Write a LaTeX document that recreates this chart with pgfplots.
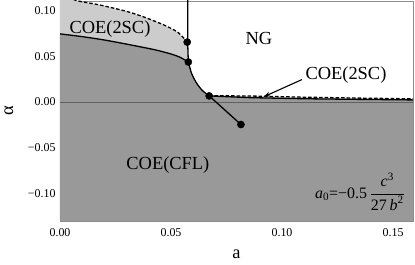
\documentclass[border=0pt]{standalone}
\usepackage{pgfplots}
\pgfplotsset{compat=1.18}
\usepackage{fontspec}
\setmainfont{Liberation Serif}
\usetikzlibrary{arrows.meta}
\definecolor{darkfill}{gray}{0.6}
\definecolor{lightfill}{gray}{0.8}
\definecolor{frameg}{gray}{0.55}
\begin{document}
\begin{tikzpicture}
\begin{axis}[
  scale only axis, width=353bp, height=219.7bp,
  xmin=0, xmax=0.159, ymin=-0.13, ymax=0.1105,
  axis line style={frameg},
  xtick={0,0.05,0.1,0.15}, xticklabels={0.00,0.05,0.10,0.15},
  ytick={-0.1,-0.05,0,0.05,0.1}, yticklabels={−0.10,−0.05,0.00,0.05,0.10},
  minor xtick={0.01,0.02,0.03,0.04,0.06,0.07,0.08,0.09,0.11,0.12,0.13,0.14},
  minor ytick={-0.12,-0.11,-0.09,-0.08,-0.07,-0.06,-0.04,-0.03,-0.02,-0.01,0.01,0.02,0.03,0.04,0.06,0.07,0.08,0.09},
  tick align=inside, xtick pos=bottom, ytick pos=left,
  major tick length=4.5bp, minor tick length=2.5bp,
  every tick/.style={frameg},
  ticklabel style={font=\fontsize{12}{14}\selectfont},
  xticklabel style={yshift=-4.5bp},
  yticklabel style={xshift=-1bp},
  xlabel={a}, ylabel={α},
  label style={font=\fontsize{18.5}{20}\selectfont},
  x label style={at={(axis description cs:0.5,-0.155)},anchor=center},
  y label style={at={(axis description cs:-0.145,0.5)},anchor=center},
  clip=true,
]
% light gray region (upper COE(2SC))
\addplot[draw=none, fill=lightfill] coordinates {(0,0.0745) (0,0.12) (0.0082,0.1105) (0.0180,0.1061) (0.0302,0.0990) (0.0383,0.0925) (0.0473,0.0837) (0.0532,0.0760) (0.0573,0.0655) (0.0578,0.0437) (0.054,0.0490) (0.05,0.0525) (0.0443,0.0562) (0.04,0.0585) (0.03,0.0633) (0.02,0.0678) (0.01,0.0715)} -- cycle;
% light gray sliver (right COE(2SC))
\addplot[draw=none, fill=lightfill] coordinates {(0.0672,0.0068) (0.0856,0.0065) (0.11,0.0052) (0.135,0.0042) (0.16,0.0034) (0.16,0.0022) (0.135,0.0028) (0.11,0.0035) (0.0856,0.0047) (0.0672,0.0066)} -- cycle;
% dark gray region (COE(CFL))
\addplot[draw=none, fill=darkfill] coordinates {(0,-0.14) (0,0.0745) (0.01,0.0715) (0.02,0.0678) (0.03,0.0633) (0.04,0.0585) (0.0443,0.0562) (0.05,0.0525) (0.054,0.0490) (0.0578,0.0437) (0.0593,0.0310) (0.0613,0.0215) (0.0640,0.0128) (0.0672,0.0066) (0.0856,0.0047) (0.11,0.0035) (0.135,0.0028) (0.16,0.0022) (0.16,-0.14)} -- cycle;
% zero line
\addplot[color=gray!75!black, line width=0.8bp] coordinates {(0,0) (0.16,0)};
% solid boundaries
\addplot[black, line width=1.3bp, smooth] coordinates {(0,0.0745) (0.01,0.0715) (0.02,0.0678) (0.03,0.0633) (0.04,0.0585) (0.0443,0.0562) (0.05,0.0525) (0.054,0.0490) (0.0578,0.0437)};
\addplot[black, line width=1.3bp, smooth] coordinates {(0.0578,0.0437) (0.0593,0.0310) (0.0613,0.0215) (0.0640,0.0128) (0.0672,0.0066)};
\addplot[black, line width=1.3bp] coordinates {(0.0672,0.0066) (0.0815,-0.0247)};
\addplot[black, line width=1.3bp] coordinates {(0.0672,0.0066) (0.0856,0.0047) (0.11,0.0035) (0.135,0.0028) (0.16,0.0022)};
\addplot[black, line width=1.3bp] coordinates {(0.0575,0.12) (0.0575,0.0655) (0.0578,0.0437)};
% dashed boundaries
\addplot[black, line width=1.3bp, dash pattern=on 3.5bp off 2bp, smooth] coordinates {(0.0060,0.1125) (0.0082,0.1105) (0.0180,0.1061) (0.0302,0.0990) (0.0383,0.0925) (0.0473,0.0837) (0.0532,0.0760) (0.0573,0.0655)};
\addplot[black, line width=1.3bp, dash pattern=on 3.5bp off 2bp] coordinates {(0.0672,0.0068) (0.0856,0.0065) (0.11,0.0052) (0.135,0.0042) (0.16,0.0034)};
% dots
\addplot[only marks, mark=*, mark size=3.6bp, black] coordinates {(0.0573,0.0655) (0.0578,0.0437) (0.0672,0.0066) (0.0815,-0.0247)};
% arrow
\draw[-{Stealth[length=7bp,width=4.5bp]}, line width=1.1bp] (axis cs:0.109,0.0245) -- (axis cs:0.0916,0.0055);
% labels
\node[font=\fontsize{18.5}{20}\selectfont] at (axis cs:0.0225,0.0794) {COE(2SC)};
\node[font=\fontsize{18.5}{20}\selectfont] at (axis cs:0.0896,0.0695) {NG};
\node[font=\fontsize{18.5}{20}\selectfont, anchor=west, inner sep=0pt] at (axis cs:0.1105,0.029) {COE(2SC)};
\node[font=\fontsize{18.5}{20}\selectfont] at (axis cs:0.0486,-0.0691) {COE(CFL)};
\node[font=\fontsize{16}{18}\selectfont, anchor=east, inner sep=0pt] at (axis cs:0.1554,-0.0983) {\textit{a}\textsubscript{0}=−0.5\,$\displaystyle\frac{\mbox{\textit{c}\textsuperscript{3}}}{\mbox{27\,\textit{b}\textsuperscript{2}}}$};
\end{axis}
\pgfresetboundingbox
\path (-60bp,-44.3bp) rectangle (355bp,220.7bp);
\end{tikzpicture}
\end{document}
